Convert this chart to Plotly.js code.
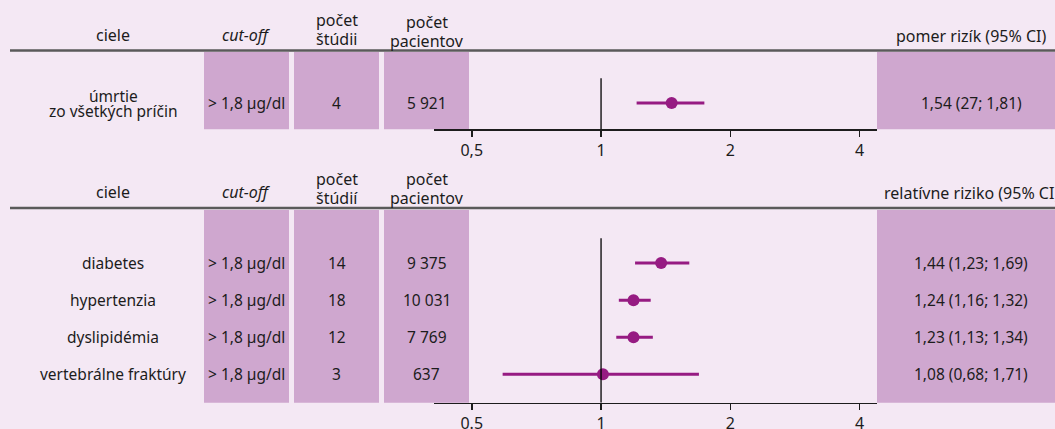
<!DOCTYPE html>
<html>
<head>
<meta charset="utf-8">
<script src="https://cdn.plot.ly/plotly-3.0.1.min.js"></script>
<style>
  html, body { margin: 0; padding: 0; background: #f4e8f4; overflow: hidden; }
  #chart { width: 1055px; height: 429px; }
</style>
</head>
<body>
<div id="chart"></div>
<script>
// ---------- data ----------
const topHeaders = ['ciele', '<i>cut-off</i>', 'počet\nštúdii', 'počet\npacientov', 'pomer rizík (95% CI)'];
const bottomHeaders = ['ciele', '<i>cut-off</i>', 'počet\nštúdií', 'počet\npacientov', 'relatívne riziko (95% CI)'];

const topOutcomes = ['úmrtie\nzo všetkých príčin'];
const topCutoff = ['> 1,8 µg/dl'];
const topStudies = ['4'];
const topPatients = ['5 921'];
const topEstimate = [1.46];
const topLower = [1.21];
const topUpper = [1.74];
const topCI = ['1,54 (27; 1,81)'];

const bottomOutcomes = ['diabetes', 'hypertenzia', 'dyslipidémia', 'vertebrálne fraktúry'];
const bottomCutoff = ['> 1,8 µg/dl', '> 1,8 µg/dl', '> 1,8 µg/dl', '> 1,8 µg/dl'];
const bottomStudies = ['14', '18', '12', '3'];
const bottomPatients = ['9 375', '10 031', '7 769', '637'];
const bottomEstimate = [1.38, 1.19, 1.19, 1.01];
const bottomLower = [1.20, 1.10, 1.085, 0.59];
const bottomUpper = [1.605, 1.305, 1.32, 1.69];
const bottomCI = ['1,44 (1,23; 1,69)', '1,24 (1,16; 1,32)', '1,23 (1,13; 1,34)', '1,08 (0,68; 1,71)'];

const tickVals = [0.5, 1, 2, 4];
const topTickText = ['0,5', '1', '2', '4'];
const bottomTickText = ['0.5', '1', '2', '4'];

// ---------- styling ----------
const W = 1055, H = 429;
const BG = '#f4e8f4';
const BOX = '#cfa7cf';
const MARK = '#961b82';
const TXT = '#1c1c1c';
const FONT = 'Noto Sans, Open Sans, sans-serif';
const FS = 15.5;
const FSH = 16;

const px = x => x / W;
const py = y => 1 - y / H;

// column centres (px) and box extents
const colX = [113, 246.5, 336.5, 426.5, 971];
const boxes = [[204, 289], [294, 379], [384, 469], [877, 1055]];

const rowsTop = topOutcomes.map((_, i) => topOutcomes.length - 1 - i);      // 0
const rowsBot = bottomOutcomes.map((_, i) => bottomOutcomes.length - i);    // 4..1

const traces = [
  {
    type: 'scatter', mode: 'markers', xaxis: 'x', yaxis: 'y',
    x: topEstimate, y: rowsTop,
    marker: { color: MARK, size: 12 },
    error_x: { type: 'data', symmetric: false,
      array: topEstimate.map((v, i) => topUpper[i] - v),
      arrayminus: topEstimate.map((v, i) => v - topLower[i]),
      color: MARK, thickness: 3, width: 0 },
    hoverinfo: 'skip', showlegend: false
  },
  {
    type: 'scatter', mode: 'markers', xaxis: 'x2', yaxis: 'y2',
    x: bottomEstimate, y: rowsBot,
    marker: { color: MARK, size: 12 },
    error_x: { type: 'data', symmetric: false,
      array: bottomEstimate.map((v, i) => bottomUpper[i] - v),
      arrayminus: bottomEstimate.map((v, i) => v - bottomLower[i]),
      color: MARK, thickness: 3, width: 0 },
    hoverinfo: 'skip', showlegend: false
  }
];

const annotations = [];
function addText(text, x, y, yref, spacing, size) {
  const lines = text.split('\n');
  const n = lines.length;
  lines.forEach((ln, k) => {
    annotations.push({
      text: ln, x: x, y: y, xref: 'paper', yref: yref,
      xanchor: 'center', yanchor: 'middle', showarrow: false,
      yshift: ((n - 1) / 2 - k) * spacing,
      font: { family: FONT, size: size || FS, color: TXT }
    });
  });
}

// headers
const topHeaderY = [35, 35, 29.5, 31.5, 35.5];
const botHeaderY = [192.3, 192, 188.3, 188.7, 193];
topHeaders.forEach((h, i) => addText(h, px(colX[i]), py(topHeaderY[i]), 'paper', 18.5, FSH));
bottomHeaders.forEach((h, i) => addText(h, px(colX[i]), py(botHeaderY[i]), 'paper', 18.5, FSH));

// table rows
function addRows(rows, yref, outcomes, cut, st, pat, ci) {
  rows.forEach((r, i) => {
    addText(outcomes[i], px(colX[0]), r, yref, 15);
    addText(cut[i], px(colX[1]), r, yref, 15);
    addText(st[i], px(colX[2]), r, yref, 15);
    addText(pat[i], px(colX[3]), r, yref, 15);
    addText(ci[i], px(colX[4]), r, yref, 15);
  });
}
addRows(rowsTop, 'y', topOutcomes, topCutoff, topStudies, topPatients, topCI);
addRows(rowsBot, 'y2', bottomOutcomes, bottomCutoff, bottomStudies, bottomPatients, bottomCI);

// shapes
const shapes = [];
['y', 'y2'].forEach(yr => {
  boxes.forEach(([a, b]) => {
    shapes.push({ type: 'rect', xref: 'paper', yref: yr + ' domain', x0: px(a), x1: px(b), y0: 0, y1: 1,
      fillcolor: BOX, line: { width: 0 }, layer: 'below' });
  });
});
// header rules
[50.5, 208].forEach(y => {
  shapes.push({ type: 'line', xref: 'paper', yref: 'paper', x0: px(10), x1: 1, y0: py(y), y1: py(y),
    line: { color: '#5a5a5a', width: 2.5 } });
});
// reference line at 1
shapes.push({ type: 'line', xref: 'x', yref: 'y', x0: 1, x1: 1, y0: -0.709, y1: 0.666, line: { color: '#000', width: 1.3 } });
shapes.push({ type: 'line', xref: 'x2', yref: 'y2', x0: 1, x1: 1, y0: 0.236, y1: 4.667, line: { color: '#000', width: 1.3 } });

const xr = [-0.38894, 0.64249];
const xAxisBase = {
  type: 'log', range: xr, domain: [px(434), px(877)],
  showgrid: false, zeroline: false, showline: true, linecolor: TXT, linewidth: 1.5,
  ticks: 'outside', ticklen: 6, tickwidth: 1.5, tickcolor: TXT,
  tickvals: tickVals, tickfont: { family: FONT, size: FSH, color: TXT }, fixedrange: true
};

const layout = {
  width: W, height: H,
  margin: { l: 0, r: 0, t: 0, b: 0, pad: 0 },
  paper_bgcolor: BG, plot_bgcolor: 'rgba(0,0,0,0)',
  showlegend: false,
  xaxis: Object.assign({}, xAxisBase, { anchor: 'y', ticktext: topTickText }),
  xaxis2: Object.assign({}, xAxisBase, { anchor: 'y2', ticktext: bottomTickText }),
  yaxis: { domain: [py(129.3), py(52)], range: [-0.709, 1.375], visible: false, fixedrange: true },
  yaxis2: { domain: [py(402.7), py(210)], range: [0.236, 5.43], visible: false, fixedrange: true },
  shapes: shapes,
  annotations: annotations
};

Plotly.newPlot('chart', traces, layout, { staticPlot: true, displayModeBar: false });
</script>
</body>
</html>
